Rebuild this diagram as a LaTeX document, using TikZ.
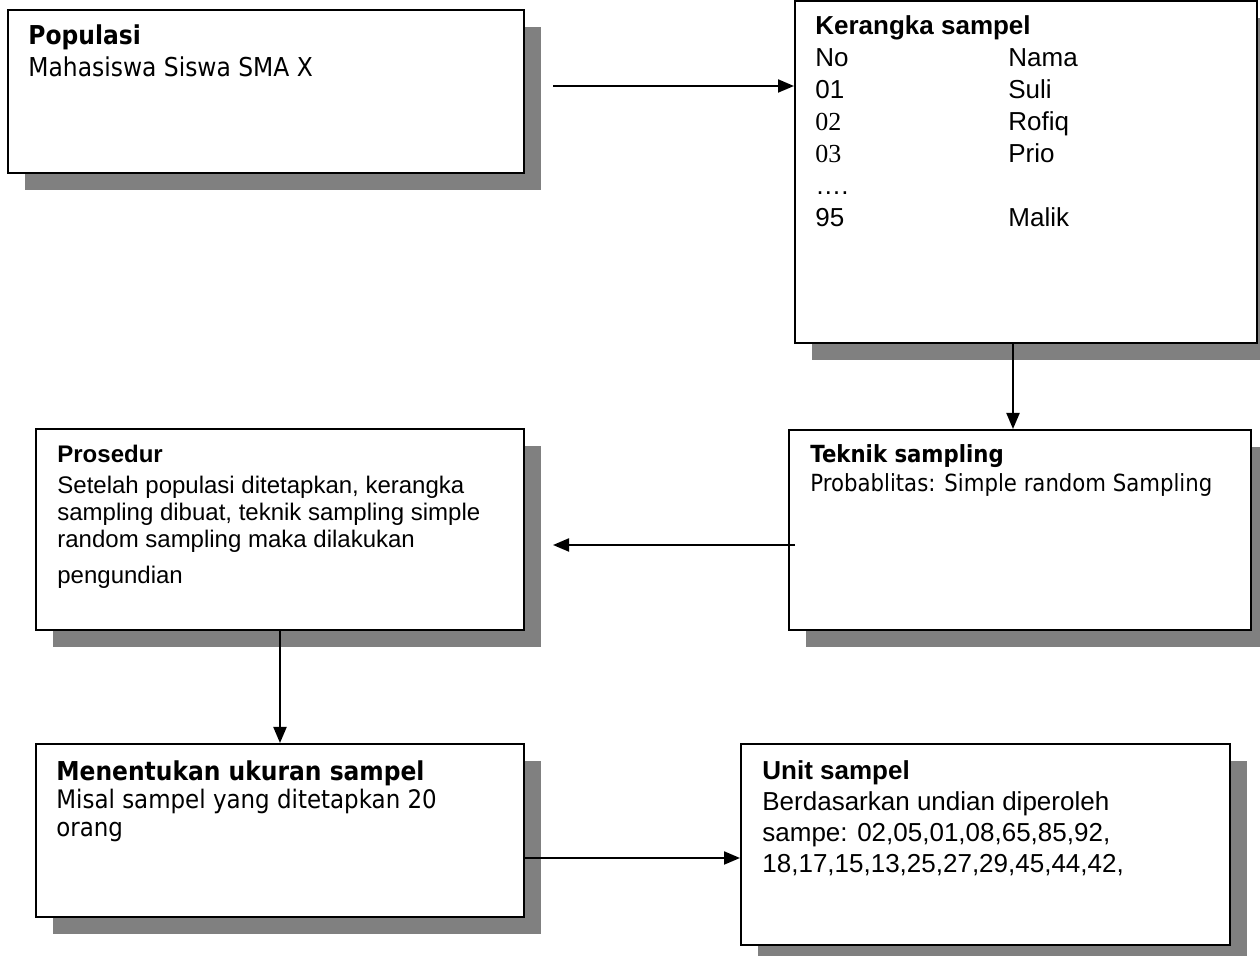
\documentclass[tikz,border=0pt]{standalone}
\usepackage{fontspec}
\setmainfont{Liberation Sans}
\newfontfamily\tah[FakeStretch=0.9]{DejaVu Sans}
\newfontfamily\tnr{Liberation Serif}
\usetikzlibrary{arrows.meta,fit,shadows}
\definecolor{shade}{HTML}{808080}
\newcommand\fsA{\fontsize{13pt}{15pt}\selectfont}
\newcommand\fsB{\fontsize{12pt}{14pt}\selectfont}
\newcommand\fsC{\fontsize{11.8pt}{14pt}\selectfont}
\newcommand\fsD{\fontsize{12.75pt}{15pt}\selectfont}

\begin{document}
\begin{tikzpicture}[x=0.5pt,y=-0.5pt,
  box/.style={draw=black, line width=1pt, fill=white, inner sep=0pt,
    drop shadow={shadow xshift=8.5pt, shadow yshift=-8.5pt, fill=shade, opacity=1}},
  txt/.style={anchor=base west, inner sep=0pt},
  tb/.style={txt, font=\tah\bfseries\fsA},
  tr/.style={txt, font=\tah\fsA},
  ab/.style={txt, font=\bfseries\fsA},
  ar/.style={txt, font=\fsA},
  arr/.style={line width=1pt, -{Triangle[length=8pt,width=6.5pt]}}]

\useasboundingbox (0,0) rectangle (1260,956);

% boxes
\node[box, fit={(8,10) (524,173)}] (pop) {};
\node[box, fit={(795,1) (1257,343)}] (kg) {};
\node[box, fit={(789,430) (1251,630)}] (tek) {};
\node[box, fit={(36,429) (524,630)}] (pro) {};
\node[box, fit={(36,744) (524,917)}] (men) {};
\node[box, fit={(741,744) (1230,945)}] (unit) {};

% Populasi
\node[tb] (popT) at (28,45) {Populasi};
\node[tr] (popA) at (28,77) {Mahasiswa Siswa SMA X};

% Kerangka sampel
\node[ab] (kgT) at (815,35) {Kerangka sampel};
\node[ar] (kgN1) at (815,67) {No};
\node[ar] (kgM1) at (1008,67) {Nama};
\node[ar] (kgN2) at (815,99) {01};
\node[ar] (kgM2) at (1008,99) {Suli};
\node[ar] (kgN3) at (815,131) {{\tnr 02}};
\node[ar] (kgM3) at (1008,131) {Rofiq};
\node[ar] (kgN4) at (815,163) {{\tnr 03}};
\node[ar] (kgM4) at (1008,163) {Prio};
\node[ar] (kgN5) at (815,195) {….};
\node[ar] (kgN6) at (815,227) {95};
\node[ar] (kgM6) at (1008,227) {Malik};

% Teknik sampling
\node[txt, font=\tah\bfseries\fsC] (tekT) at (810,463) {Teknik sampling};
\node[txt, font=\tah\fsC] (tekA) at (810,492) {Probablitas: Simple random Sampling};

% Prosedur
\begin{scope}[every node/.append style={font=\fsB}]
\node[txt, font=\bfseries\fsB] (proT) at (57,463) {Prosedur};
\node[txt] (proA) at (57,494) {Setelah populasi ditetapkan, kerangka};
\node[txt] (proB) at (57,521) {sampling dibuat, teknik sampling simple};
\node[txt] (proC) at (57,548) {random sampling maka dilakukan};
\node[txt] (proD) at (57,584) {pengundian};
\end{scope}

% Menentukan ukuran sampel
\node[tb] (menT) at (56,781) {Menentukan ukuran sampel};
\node[txt, font=\tah\fsD] (menA) at (56,809) {Misal sampel yang ditetapkan 20};
\node[txt, font=\tah\fsD] (menB) at (56,837) {orang};

% Unit sampel
\node[ab] (unitT) at (762,780) {Unit sampel};
\node[ar] (unitA) at (762,811) {Berdasarkan undian diperoleh};
\node[ar] (unitB) at (762,842) {sampe: 02,05,01,08,65,85,92,};
\node[ar] (unitC) at (762,873) {18,17,15,13,25,27,29,45,44,42,};

% connectors
\coordinate (vx) at (1013,0);
\draw[arr] ([shift={(28,-5.5)}]pop.east) -- (kg.west |- 0,86);
\draw[arr] (kg.south -| vx) -- (tek.north -| vx);
\draw[arr] ([shift={(7,15)}]tek.west) -- ([shift={(28,15)}]pro.east |- tek.west);
\draw[arr] (pro.south) -- (men.north);
\draw[arr] ([shift={(0,27.5)}]men.east) -- ([shift={(0,27.5)}]men.east -| unit.west);
\end{tikzpicture}
\end{document}
